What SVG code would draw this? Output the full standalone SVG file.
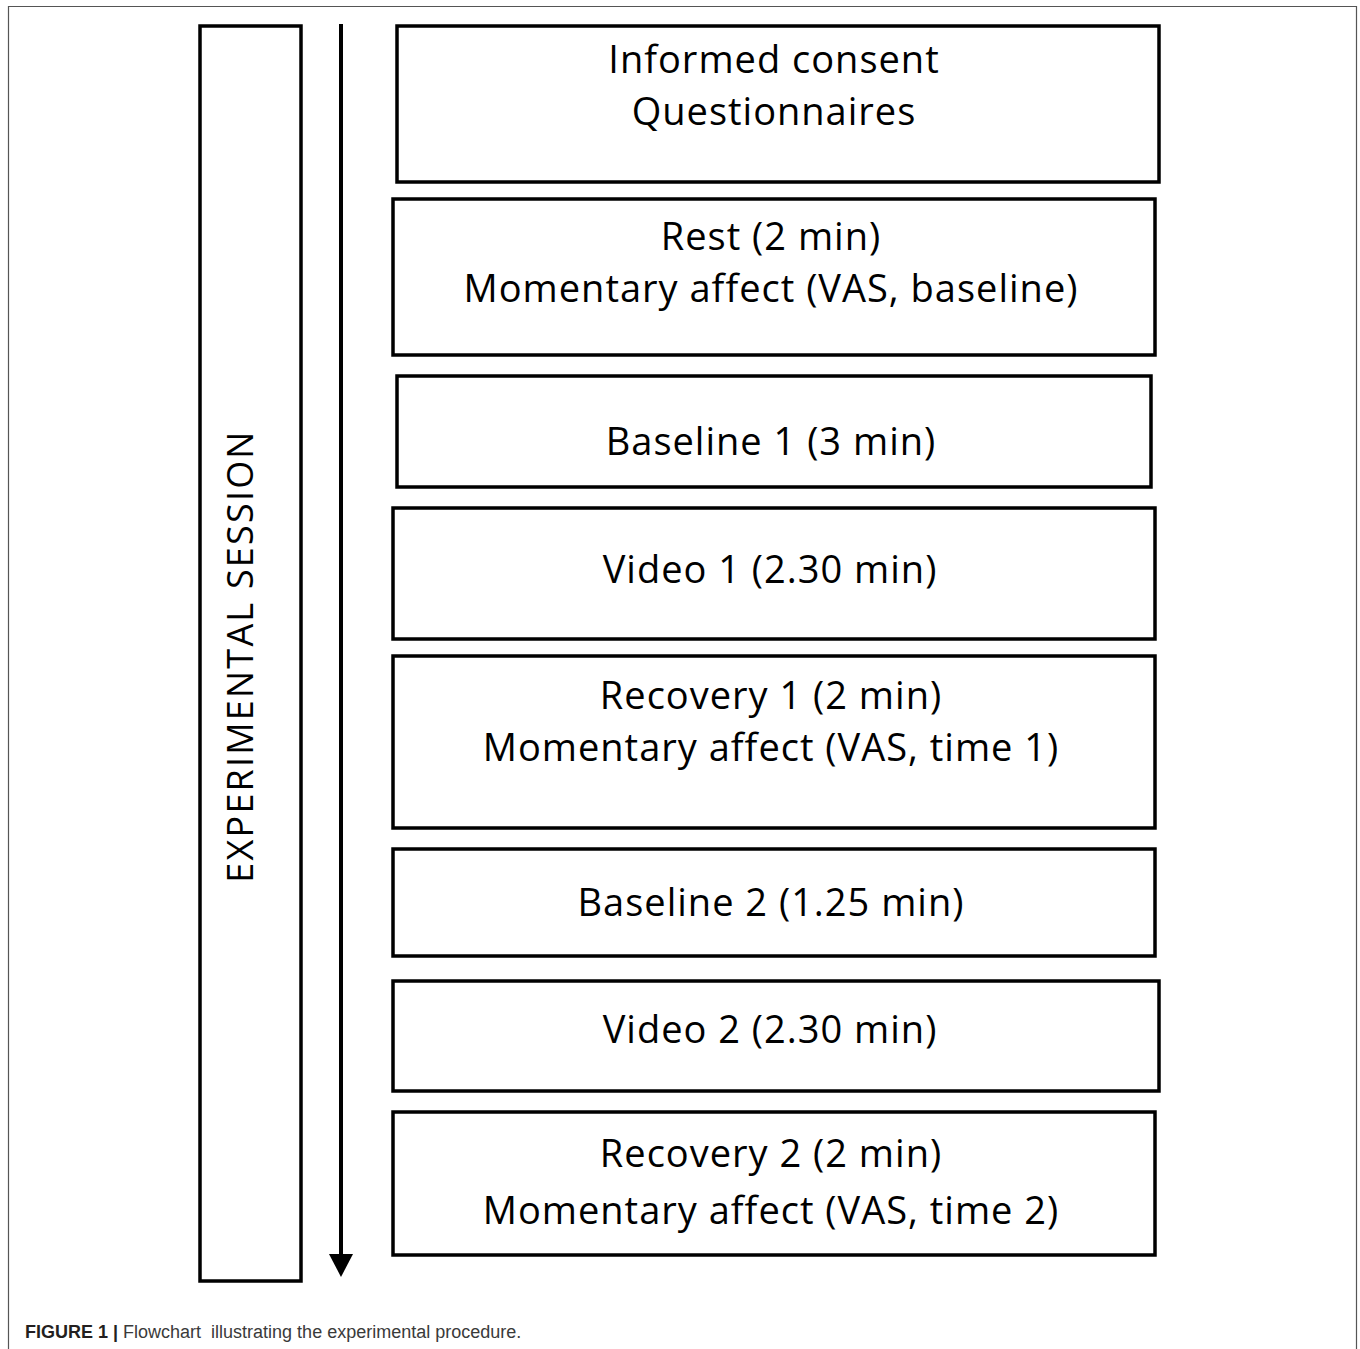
<svg xmlns="http://www.w3.org/2000/svg" width="1360" height="1349" viewBox="0 0 1360 1349">
<style>
.box{fill:#fff;stroke:#000;stroke-width:3.5}
.t{font-family:"Open Sans","Liberation Sans",sans-serif;font-size:38px;letter-spacing:1px;fill:#000;text-anchor:middle}
.cap{font-family:"Liberation Sans",Arial,sans-serif;font-size:18px;white-space:pre}
</style>
<rect width="1360" height="1349" fill="#fff"/>
<path d="M8.5,1349 V6.5 H1356.5 V1349" fill="none" stroke="#555" stroke-width="1.2"/>
<g id="session">
<rect class="box" x="200" y="26" width="101" height="1255"/>
<text class="t" transform="translate(253,656) rotate(-90)" style="font-size:36px;letter-spacing:2.2px">EXPERIMENTAL SESSION</text>
</g>
<g id="connectors">
<line x1="341" y1="24" x2="341" y2="1254" stroke="#000" stroke-width="4"/>
<path d="M329,1254 L353,1254 L341,1277 Z" fill="#000"/>
</g>
<g id="n1">
<rect class="box" x="397" y="26" width="762" height="156"/>
<text class="t" x="774" y="73">Informed consent</text>
<text class="t" x="774" y="125">Questionnaires</text>
</g>
<g id="n2">
<rect class="box" x="393" y="199" width="762" height="156"/>
<text class="t" x="771" y="250">Rest (2 min)</text>
<text class="t" x="771" y="302">Momentary affect (VAS, baseline)</text>
</g>
<g id="n3">
<rect class="box" x="397" y="376" width="754" height="111"/>
<text class="t" x="771" y="455">Baseline 1 (3 min)</text>
</g>
<g id="n4">
<rect class="box" x="393" y="508" width="762" height="131"/>
<text class="t" x="770" y="583">Video 1 (2.30 min)</text>
</g>
<g id="n5">
<rect class="box" x="393" y="656" width="762" height="172"/>
<text class="t" x="771" y="709">Recovery 1 (2 min)</text>
<text class="t" x="771" y="761">Momentary affect (VAS, time 1)</text>
</g>
<g id="n6">
<rect class="box" x="393" y="849" width="762" height="107"/>
<text class="t" x="771" y="916">Baseline 2 (1.25 min)</text>
</g>
<g id="n7">
<rect class="box" x="393" y="981" width="766" height="110"/>
<text class="t" x="770" y="1043">Video 2 (2.30 min)</text>
</g>
<g id="n8">
<rect class="box" x="393" y="1112" width="762" height="143"/>
<text class="t" x="771" y="1167">Recovery 2 (2 min)</text>
<text class="t" x="771" y="1224">Momentary affect (VAS, time 2)</text>
</g>
<text class="cap" x="25" y="1338"><tspan font-weight="bold" fill="#231f20">FIGURE 1 |</tspan><tspan fill="#3a3a3a"> Flowchart  illustrating the experimental procedure.</tspan></text>
</svg>
